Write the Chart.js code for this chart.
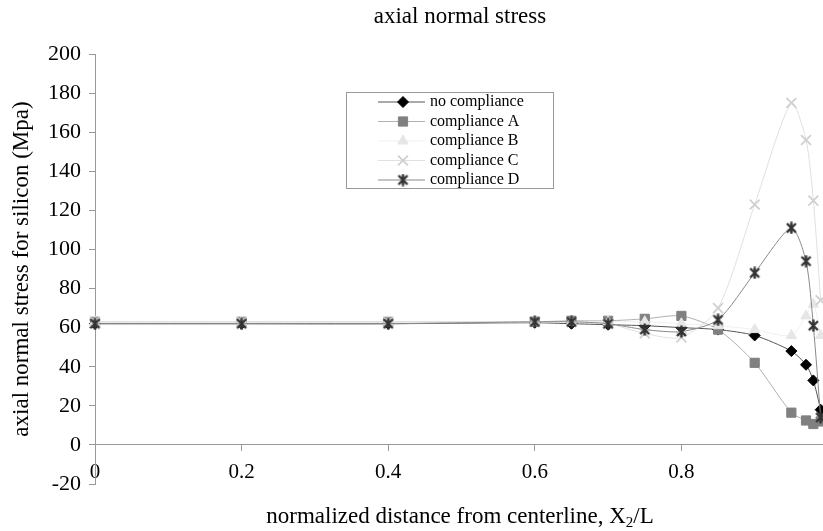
<!DOCTYPE html>
<html>
<head>
<meta charset="utf-8">
<script src="https://cdn.jsdelivr.net/npm/chart.js@4.4.0/dist/chart.umd.min.js"></script>
<style>
  html,body{margin:0;padding:0;background:#fff;overflow:hidden}
  #wrap{width:823px;height:531px;overflow:hidden}
  /* the plot runs a few px past the right edge, like the cropped original */
  #c{display:block}
</style>
</head>
<body>
<div id="wrap"><canvas id="c" width="830" height="531"></canvas></div>
<script>
// data (normalized distance x, stress in Mpa)
const xPos = [0, 0.2, 0.4, 0.6, 0.65, 0.7, 0.75, 0.8, 0.85, 0.9, 0.95, 0.97, 0.98, 0.99];
const seriesNames = ['no compliance', 'compliance A', 'compliance B', 'compliance C', 'compliance D'];
const noCompliance = [62, 62, 62, 62.5, 62, 61.5, 61, 60, 59, 56, 48, 41, 33, 18];
const complianceA = [63, 63, 63, 63, 63.5, 63.5, 64.5, 66, 59, 42, 16.5, 12.5, 10.7, 12];
const complianceB = [63, 63, 63, 63, 63, 63, 63, 62, 61, 59, 56, 66, 72, 56];
const complianceC = [63, 63, 63, 63, 63, 62, 57, 55, 70, 123, 175, 156, 125, 74];
const complianceD = [62, 62, 62, 63, 63, 62, 59, 58, 64, 88, 111, 94, 61, 14];
const xMin = 0, xMax = 1, xStep = 0.2;
const yMin = -20, yMax = 200, yStep = 20;

const SERIF = '"Liberation Serif", "Times New Roman", serif';

function starMarker(){
  const c = document.createElement('canvas'); c.width = 13; c.height = 13;
  const g = c.getContext('2d');
  g.strokeStyle = '#333'; g.lineWidth = 2.4;
  g.beginPath();
  g.moveTo(2,2); g.lineTo(11,11); g.moveTo(11,2); g.lineTo(2,11);
  g.moveTo(6.5,0.5); g.lineTo(6.5,12.5);
  g.stroke();
  return c;
}

const looks = [
  {line:'#555555', fill:'#000000', border:'#000000', style:'rectRot', r:5.5, bw:1},
  {line:'#b0b0b0', fill:'#808080', border:'#808080', style:'rect', r:6.5, bw:1},
  {line:'#f0f0f0', fill:'#e6e6e6', border:'#e6e6e6', style:'triangle', r:6, bw:1},
  {line:'#e0e0e0', fill:'#d0d0d0', border:'#d0d0d0', style:'crossRot', r:7, bw:1.8},
  {line:'#8a8a8a', fill:'#333333', border:'#333333', style:starMarker(), r:6, bw:1}
];
const allValues = [noCompliance, complianceA, complianceB, complianceC, complianceD];

const datasets = allValues.map((vals, i) => ({
  label: seriesNames[i],
  data: vals.map((v, k) => ({x: xPos[k], y: v})),
  borderColor: looks[i].line,
  borderWidth: 1,
  backgroundColor: looks[i].fill,
  pointBackgroundColor: looks[i].fill,
  pointBorderColor: looks[i].border,
  pointBorderWidth: looks[i].bw,
  pointStyle: looks[i].style,
  pointRadius: looks[i].r,
  tension: 0.25,
  clip: false,
  order: 4 - i
}));

const noPad = () => ({left: 0, top: 0, right: 0, bottom: 0});

const textPlugin = {
  id: 'texts',
  afterDraw(chart){
    const ctx = chart.ctx;
    ctx.save();
    ctx.fillStyle = '#000';
    ctx.font = '23px ' + SERIF;
    ctx.textAlign = 'center'; ctx.textBaseline = 'middle';
    ctx.fillText('axial normal stress', 460, 17);

    ctx.save();
    ctx.translate(22, 269);
    ctx.rotate(-Math.PI / 2);
    ctx.fillText('axial normal stress for silicon (Mpa)', 0, 0);
    ctx.restore();

    // x title with subscript
    const p1 = 'normalized distance from centerline, X', p2 = '2', p3 = '/L';
    ctx.textAlign = 'left'; ctx.textBaseline = 'alphabetic';
    ctx.font = '23px ' + SERIF; const w1 = ctx.measureText(p1).width, w3 = ctx.measureText(p3).width;
    ctx.font = '15px ' + SERIF; const w2 = ctx.measureText(p2).width;
    let x = 460 - (w1 + w2 + w3) / 2; const base = 523;
    ctx.font = '23px ' + SERIF; ctx.fillText(p1, x, base); x += w1;
    ctx.font = '15px ' + SERIF; ctx.fillText(p2, x, base + 4); x += w2;
    ctx.font = '23px ' + SERIF; ctx.fillText(p3, x, base);

    // legend box
    const bx = 346, by = 92, bw = 207, bh = 96;
    ctx.fillStyle = '#fff'; ctx.fillRect(bx, by, bw, bh);
    ctx.strokeStyle = '#999'; ctx.lineWidth = 1;
    ctx.strokeRect(bx + 0.5, by + 0.5, bw, bh);
    ctx.font = '16px ' + SERIF; ctx.textBaseline = 'middle';
    seriesNames.forEach((name, i) => {
      const y = 102 + i * 19.5;
      const lk = looks[i];
      ctx.strokeStyle = lk.line; ctx.lineWidth = 1;
      ctx.beginPath(); ctx.moveTo(378, y); ctx.lineTo(425, y); ctx.stroke();
      ctx.fillStyle = lk.fill; ctx.strokeStyle = lk.border;
      ctx.lineWidth = lk.bw;
      Chart.helpers.drawPoint(ctx, {pointStyle: lk.style, radius: lk.r, rotation: 0, borderWidth: lk.bw}, 403, y);
      ctx.fillStyle = '#000';
      ctx.fillText(name, 430, y);
    });
    ctx.restore();
  }
};

new Chart(document.getElementById('c'), {
  type: 'line',
  data: {datasets},
  options: {
    responsive: false,
    devicePixelRatio: 1,
    animation: false,
    events: [],
    layout: {autoPadding: false, padding: {top: 54, bottom: 47, left: 0, right: 2}},
    plugins: {legend: {display: false}, title: {display: false}, tooltip: {enabled: false}},
    scales: {
      x: {
        type: 'linear', min: xMin, max: xMax,
        position: {y: 0},
        afterFit: s => { s.paddingLeft = 0; s.paddingRight = 0; s.getPadding = noPad; },
        ticks: {
          stepSize: xStep,
          // the "1" label falls outside the cropped original
          callback: v => (v >= xMax ? '' : String(v)),
          font: {family: SERIF, size: 21}, color: '#000', padding: 9,
          maxRotation: 0, autoSkip: false
        },
        grid: {drawOnChartArea: false, drawTicks: true, tickLength: 6, color: '#999'},
        border: {color: '#999'}
      },
      y: {
        min: yMin, max: yMax,
        afterFit: s => { s.width = 95; },
        ticks: {stepSize: yStep, font: {family: SERIF, size: 22}, color: '#000', padding: 8},
        grid: {drawOnChartArea: false, drawTicks: true, tickLength: 6, color: '#999'},
        border: {color: '#999'}
      }
    }
  },
  plugins: [textPlugin]
});
</script>
</body>
</html>
